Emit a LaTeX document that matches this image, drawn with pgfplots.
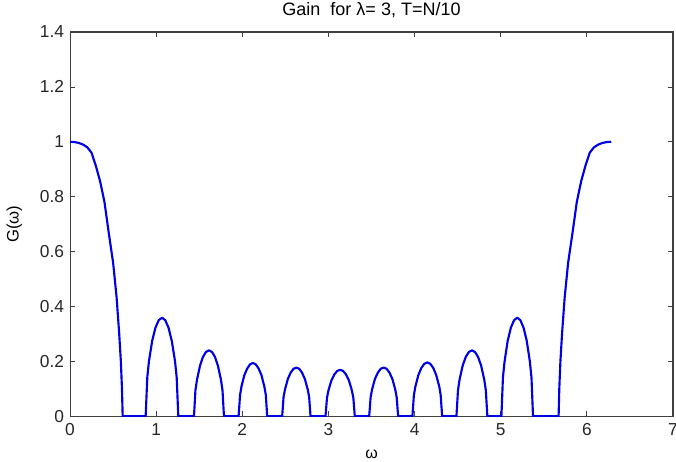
\documentclass[border=0pt]{standalone}
\usepackage{pgfplots}
\pgfplotsset{compat=1.18}
\usepackage{fontspec}
\setmainfont{Liberation Sans}
\definecolor{axgray}{gray}{0.25}
\begin{document}
\begin{tikzpicture}
\begin{axis}[
  scale only axis,
  width=452pt, height=288pt,
  xmin=0, xmax=7, ymin=0, ymax=1.4,
  xtick={0,1,...,7},
  ytick={0,0.2,0.4,0.6,0.8,1,1.2,1.4},
  yticklabels={0,0.2,0.4,0.6,0.8,1,1.2,1.4},
  tick align=inside,
  tick pos=both,
  major tick length=4pt,
  axis line style={axgray, line width=0.8pt},
  tick style={axgray, line width=0.6pt},
  /pgf/number format/assume math mode=true,
  tick label style={font=\fontsize{13}{15}\selectfont, text=black!85},
  xticklabel style={yshift=-2pt},
  yticklabel style={xshift=-1pt},
  title={Gain\ \ for λ= 3, T=N/10},
  title style={font=\fontsize{13.5}{15}\selectfont, yshift=1pt},
  xlabel={ω},
  xlabel style={font=\fontsize{12}{14}\selectfont, yshift=-3.5pt},
  ylabel={G(ω)},
  ylabel style={font=\fontsize{12.5}{14}\selectfont, yshift=6.5pt},
]
\addplot[blue!90!black, line width=1.6pt, line join=round] coordinates {
(0,1.0) (0.05,0.999) (0.1,0.996) (0.15,0.990) (0.2,0.980) (0.25,0.960) (0.3,0.912) (0.35,0.855) (0.4,0.780) (0.45,0.667) (0.5,0.560) (0.54,0.435) (0.57,0.305) (0.59,0.200) (0.603,0.10) (0.611,0)
(0.878,0) (0.897,0.142) (0.916,0.200) (0.954,0.275) (0.992,0.323) (1.030,0.350) (1.068,0.359) (1.105,0.350) (1.143,0.323) (1.181,0.275) (1.219,0.200) (1.238,0.142) (1.257,0)
(1.439,0) (1.456,0.095) (1.474,0.133) (1.509,0.184) (1.543,0.216) (1.578,0.234) (1.613,0.240) (1.648,0.234) (1.683,0.216) (1.717,0.184) (1.752,0.133) (1.770,0.095) (1.787,0)
(1.957,0) (1.974,0.077) (1.990,0.108) (2.023,0.149) (2.057,0.174) (2.090,0.189) (2.123,0.194) (2.156,0.189) (2.189,0.174) (2.223,0.149) (2.256,0.108) (2.273,0.077) (2.289,0)
(2.463,0) (2.479,0.070) (2.496,0.098) (2.529,0.136) (2.562,0.159) (2.595,0.173) (2.628,0.177) (2.660,0.173) (2.693,0.159) (2.726,0.136) (2.759,0.098) (2.776,0.070) (2.792,0)
(2.966,0) (2.983,0.067) (3.000,0.094) (3.034,0.130) (3.068,0.152) (3.102,0.165) (3.136,0.169) (3.170,0.165) (3.204,0.152) (3.238,0.130) (3.272,0.094) (3.289,0.067) (3.306,0)
(3.473,0) (3.490,0.070) (3.507,0.098) (3.540,0.136) (3.574,0.159) (3.607,0.173) (3.641,0.177) (3.675,0.173) (3.708,0.159) (3.742,0.136) (3.775,0.098) (3.792,0.070) (3.809,0)
(3.975,0) (3.992,0.077) (4.010,0.109) (4.044,0.150) (4.079,0.176) (4.113,0.191) (4.148,0.196) (4.182,0.191) (4.217,0.176) (4.251,0.150) (4.286,0.109) (4.303,0.077) (4.320,0)
(4.486,0) (4.504,0.095) (4.522,0.133) (4.558,0.184) (4.594,0.216) (4.630,0.234) (4.666,0.240) (4.701,0.234) (4.737,0.216) (4.773,0.184) (4.809,0.133) (4.827,0.095) (4.845,0)
(5.008,0) (5.026,0.142) (5.045,0.200) (5.081,0.275) (5.118,0.323) (5.155,0.350) (5.192,0.359) (5.228,0.350) (5.265,0.323) (5.302,0.275) (5.338,0.200) (5.357,0.142) (5.375,0)
(5.672,0) (5.680,0.10) (5.693,0.200) (5.713,0.305) (5.743,0.435) (5.783,0.560) (5.833,0.667) (5.883,0.780) (5.933,0.855) (5.983,0.912) (6.033,0.960) (6.083,0.980) (6.133,0.990) (6.183,0.996) (6.233,0.999) (6.283,1.0)
};
\end{axis}
\pgfresetboundingbox
\path[use as bounding box] (-52.5pt,-33.75pt) rectangle (454.25pt,312pt);
\end{tikzpicture}
\end{document}
